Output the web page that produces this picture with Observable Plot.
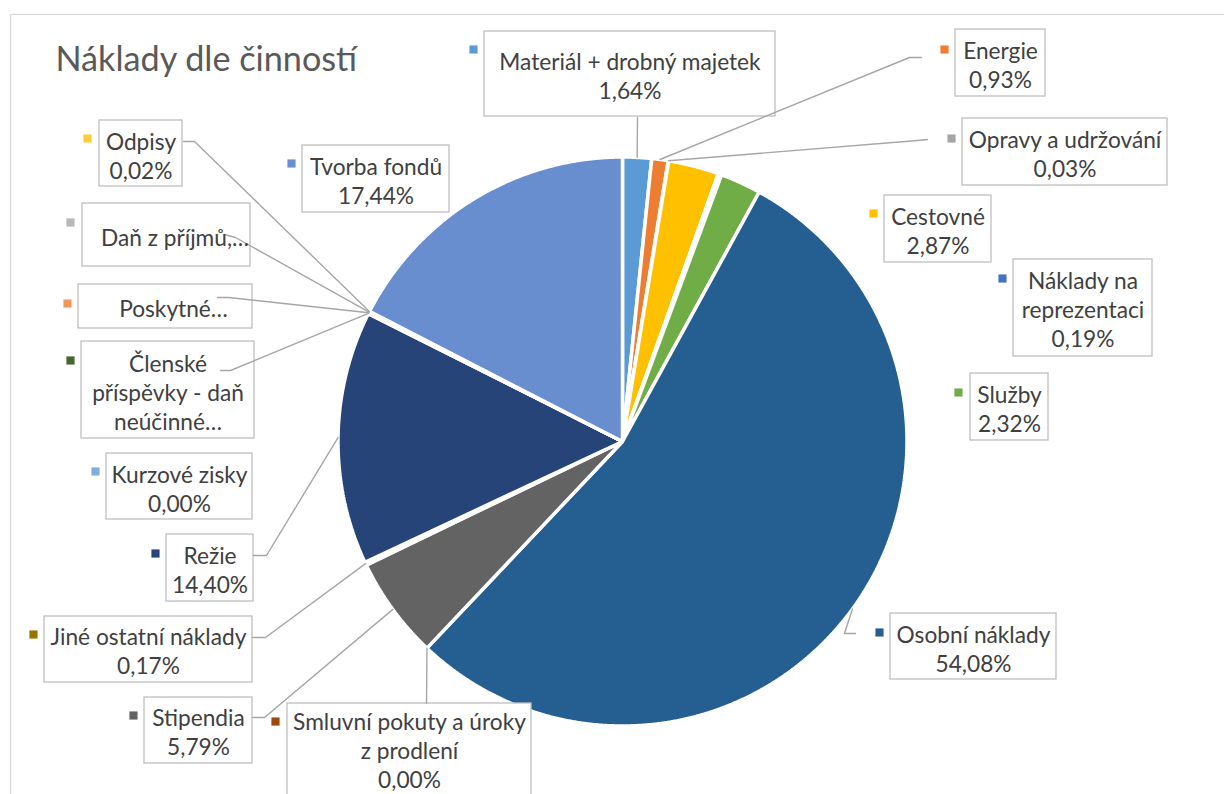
<!DOCTYPE html>
<html><head><meta charset="utf-8">
<script src="https://cdn.jsdelivr.net/npm/d3@7"></script>
<script src="https://cdn.jsdelivr.net/npm/@observablehq/plot@0.6"></script>
<style>body{margin:0;background:#fff;} svg{display:block;}</style>
</head><body><div id="chart"></div>
<script>
// ---- data (clockwise from 12 o'clock) ----
const categories = ["Materiál + drobný majetek","Energie","Opravy a udržování","Cestovné","Náklady na reprezentaci","Služby","Osobní náklady","Smluvní pokuty a úroky z prodlení","Stipendia","Jiné ostatní náklady","Režie","Členské příspěvky - daň neúčinné","Kurzové zisky","Poskytnuté","Daň z příjmů","Odpisy","Tvorba fondů"];
const shares = [1.64,0.93,0.03,2.87,0.19,2.32,54.08,0.00,5.79,0.17,14.40,0.03,0.00,0.04,0.05,0.02,17.44];
const labelNames = ["Materiál + drobný majetek","Energie","Opravy a udržování","Cestovné","Náklady na\nreprezentaci","Služby","Osobní náklady","Smluvní pokuty a úroky\nz prodlení","Stipendia","Jiné ostatní náklady","Režie","Členské\npříspěvky - daň\nneúčinné…","Kurzové zisky","Poskytné…","Daň z příjmů,…","Odpisy","Tvorba fondů"];
const showValue = [true,true,true,true,true,true,true,true,true,true,true,false,true,false,false,true,true];
const title = "Náklady dle činností";

// ---- styles ----
const palette = ["#5B9BD5","#ED7D31","#A5A5A5","#FFC000","#4472C4","#70AD47","#255E91","#9E480E","#636363","#997300","#264478","#43682B","#7CAFDD","#F1975A","#B7B7B7","#FFCD33","#698ED0"];

// ---- layout (label boxes, markers, leader anchors, text centres) ----
const pieCenter = {x: 622, y: 441}, pieRadius = 284.5;
const boxes = [
  [484,31,775,116],[955,29,1045,96],[962,118,1167,185],[884,195,991,262],[1013,259,1152,356],
  [970,373,1048,440],[890,613,1056,679],[287,703,531,812],[144,697,252,763],[44,616,252,682],
  [166,534,253,601],[81,341,254,438],[106,453,252,519],[78,284,252,328],[82,203,250,266],
  [99,120,182,186],[302,145,449,212]];
const markers = [[473,49],[944,49],[951,138],[873,213],[1002,278],[958,392],[879,632],[275,721],[133,715],[33,634],[155,553],[70,360],[95,471],[67,303],[70,222],[87,138],[291,163]];
const textCenters = [[629.5,74.5],[1000,64],[1064.5,153],[937.5,230],[1082.5,308],[1009,408],[973,647.5],[409,749],[198,731],[148,649.5],[209.5,568.5],[167.5,391.5],[179,487.5],[173,307],[174.5,236],[140.5,154.5],[375.5,179.5]];
const leaders = [[[637,117]],[[921,57],[909,57]],[[927,139],[917,140]],null,null,null,[[855,633],[844,633]],[[426,703]],[[252,717],[264,717]],[[252,637],[265,637]],[[253,555],[266,555]],[[220,370],[230,370]],null,[[217,297],[228,297]],[[224,234],[235,237]],[[183,141],[194,141]],null];

const fmt = d3.formatLocale({decimal: ",", thousands: "\u00a0", grouping: [3], currency: ["", ""]}).format(".2f");

const rows = categories.map((name, i) => ({name, share: shares[i], color: palette[i], i}));
const arcs = d3.pie().sort(null).value(d => d.share).startAngle(0).endAngle(2 * Math.PI)(rows);
const polar = (a, r) => ({x: pieCenter.x + r * Math.sin(a), y: pieCenter.y - r * Math.cos(a)});

const slicePts = [];
arcs.forEach(a => {
  if (a.data.share <= 0) return;
  slicePts.push({k: a.data.name, color: a.data.color, ...pieCenter});
  const n = Math.max(2, Math.ceil((a.endAngle - a.startAngle) / 0.004));
  for (let j = 0; j <= n; j++) {
    const ang = a.startAngle + (a.endAngle - a.startAngle) * j / n;
    slicePts.push({k: a.data.name, color: a.data.color, ...polar(ang, pieRadius)});
  }
});

const leaderPts = [];
arcs.forEach((a, i) => {
  const L = leaders[i];
  if (!L) return;
  L.forEach(([x, y]) => leaderPts.push({k: i, x, y}));
  const mid = (a.startAngle + a.endAngle) / 2;
  leaderPts.push({k: i, ...polar(mid, pieRadius)});
});

const boxData = rows.map((d, i) => ({x1: boxes[i][0], y1: boxes[i][1], x2: boxes[i][2], y2: boxes[i][3]}));
const markerData = rows.map((d, i) => ({x: markers[i][0], y: markers[i][1], color: d.color}));
const textData = rows.map((d, i) => ({x: textCenters[i][0], y: textCenters[i][1],
  text: labelNames[i] + (showValue[i] ? "\n" + fmt(d.share) + "%" : "")}));

const font = "Lato, Carlito, Calibri, sans-serif";
const chart = Plot.plot({
  width: 1224, height: 794, margin: 0,
  x: {domain: [0, 1224], range: [0, 1224], axis: null},
  y: {domain: [0, 794], range: [0, 794], axis: null},
  color: {type: "identity"},
  style: {fontFamily: font, background: "#fff"},
  marks: [
    Plot.rect([{x1: 10.5, y1: 14.5, x2: 1240, y2: 820}], {x1: "x1", y1: "y1", x2: "x2", y2: "y2", fill: "none", stroke: "#d9d9d9", strokeWidth: 1.3}),
    Plot.line(slicePts, {x: "x", y: "y", z: "k", fill: "color", stroke: "white", strokeWidth: 3.5, strokeLinejoin: "miter", curve: "linear-closed"}),
    Plot.rect(boxData, {x1: "x1", y1: "y1", x2: "x2", y2: "y2", fill: "white", stroke: "#bfbfbf", strokeWidth: 1.3}),
    Plot.line(leaderPts, {x: "x", y: "y", z: "k", stroke: "#a6a6a6", strokeWidth: 1.4}),
    Plot.dot(markerData, {x: "x", y: "y", symbol: "square", r: 4.6, fill: "color", stroke: null}),
    Plot.text(textData, {x: "x", y: "y", text: "text", fontSize: 22.7, lineHeight: 1.277, fill: "#404040", fontFamily: font}),
    Plot.text([{x: 55, y: 60, t: title}], {x: "x", y: "y", text: "t", textAnchor: "start", fontSize: 34.2, fill: "#595959", fontFamily: font})
  ]
});
document.getElementById("chart").appendChild(chart);
</script>
</body></html>
